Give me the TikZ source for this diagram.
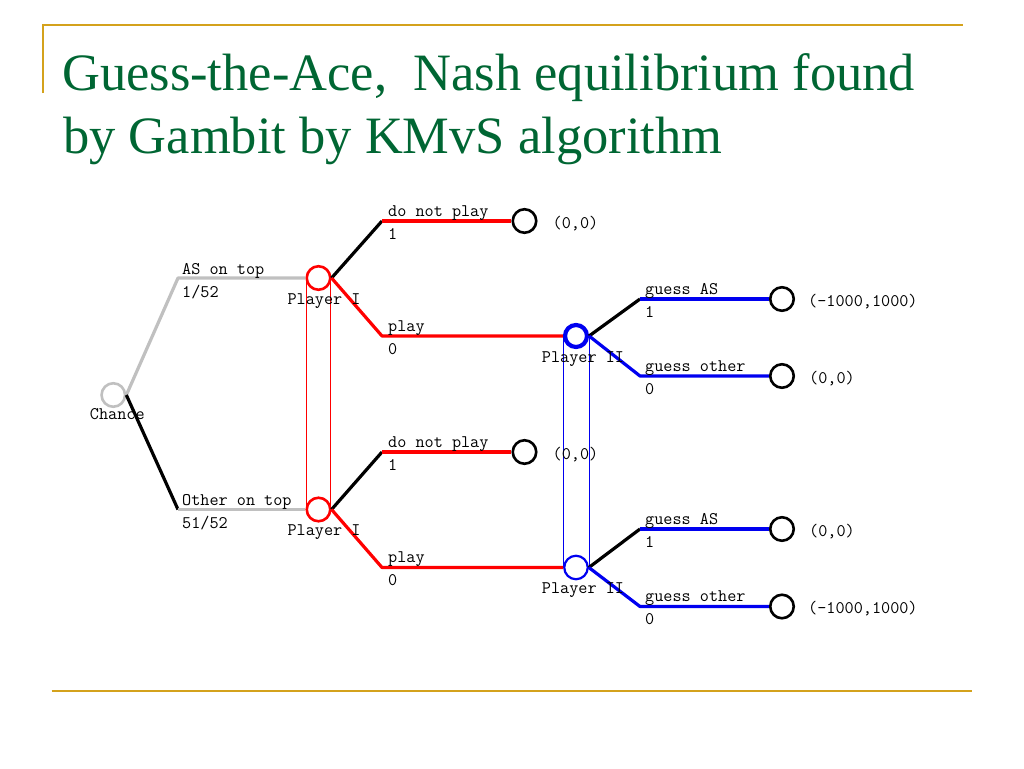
\documentclass[tikz,border=0pt]{standalone}
\usepackage{fontspec}
\newfontfamily\titlefont{Liberation Serif}
\usetikzlibrary{calc,backgrounds}
\definecolor{gold}{RGB}{212,162,28}
\definecolor{titlegreen}{RGB}{0,102,51}
\definecolor{brgray}{RGB}{192,192,192}
\definecolor{gblue}{RGB}{0,0,240}
\tikzset{
  br/.style={line width=3.2pt, line join=round},
  lbl/.style={font=\fontsize{17.7}{20}\selectfont\ttfamily, inner sep=0pt, text=black},
  lab/.style={lbl, anchor=base west},
  node0/.style={circle, minimum size=23.5pt, inner sep=0pt, line width=2.6pt, fill=white},
  term/.style={node0, draw=black},
  p1/.style={node0, draw=red},
  info/.style={line width=0.8pt},
  titletext/.style={font=\fontsize{52.5}{60}\selectfont\titlefont, text=titlegreen, inner sep=0pt, anchor=base west},
  rule/.style={draw=gold, line width=2pt}
}
\begin{document}
\begin{tikzpicture}[x=1pt,y=-1pt]
\useasboundingbox (0,0) rectangle (1024,768);
% slide rules
\coordinate (r1) at (42.7,25);
\coordinate (r2) at (963,25);
\coordinate (r3) at (42.7,93);
\coordinate (r4) at (51.7,691);
\coordinate (r5) at (971.7,691);
\draw[rule] (r3) -- (r1) -- (r2);
\draw[rule] (r4) -- (r5);
% title
\node[titletext] (t1line) at (62,90) {Guess-the-Ace,\ \ Nash equilibrium found};
\node[titletext] (t2line) at (63,153) {by Gambit by KMvS algorithm};
% nodes
\node[node0, draw=brgray] (chance) at (113.3,395) {};
\node[p1] (p1a) at (318.5,278) {};
\node[p1] (p1b) at (318.5,509.5) {};
\node[node0, draw=gblue, line width=4.2pt, minimum size=22pt] (p2a) at (576,336) {};
\node[node0, draw=gblue, line width=2.2pt] (p2b) at (576,567.5) {};
\node[term] (ta) at (524.5,221) {};
\node[term] (tb) at (524.5,452) {};
\node[term] (tc) at (782,299) {};
\node[term] (td) at (782,376) {};
\node[term] (te) at (782,529) {};
\node[term] (tf) at (782,606.5) {};
% bend points
\coordinate (c1) at (178,278);
\coordinate (c2) at (178,509.5);
\coordinate (d1) at (382,221);
\coordinate (d2) at (382,336);
\coordinate (d3) at (382,452);
\coordinate (d4) at (382,567.5);
\coordinate (e1) at (640,299);
\coordinate (e2) at (640,376);
\coordinate (e3) at (640,529);
\coordinate (e4) at (640,606.5);
% information sets
\begin{scope}[on background layer]
\draw[info, red] (p1a.center) ++(-12,0) coordinate (i1) rectangle ($(p1b.center)+(12,0)$);
\draw[info, gblue] (p2a.center) ++(-13,0) coordinate (i2) rectangle ($(p2b.center)+(13,0)$);
\end{scope}
% chance branches
\draw[br, brgray] (chance.east) -- (c1) -- (p1a.west);
\draw[br, black] (chance.east) -- (c2);
\draw[br, brgray] (c2) -- (p1b.west);
% player I branches
\draw[br, black] (p1a.east) -- (d1);
\draw[br, red] (d1) -- (ta.west);
\draw[br, red] (p1a.east) -- (d2) -- (p2a.west);
\draw[br, black] (p1b.east) -- (d3);
\draw[br, red] (d3) -- (tb.west);
\draw[br, red] (p1b.east) -- (d4) -- (p2b.west);
% player II branches
\draw[br, black] (p2a.east) -- (e1);
\draw[br, gblue] (e1) -- (tc.west);
\draw[br, gblue] (p2a.east) -- (e2) -- (td.west);
\draw[br, black] (p2b.east) -- (e3);
\draw[br, gblue] (e3) -- (te.west);
\draw[br, gblue] (p2b.east) -- (e4) -- (tf.west);
% node labels
\node[lbl, anchor=base] (lch) at ($(chance.center)+(4,24)$) {Chance};
\node[lbl, anchor=base] (lp1a) at ($(p1a.center)+(5.5,26)$) {Player I};
\node[lbl, anchor=base] (lp1b) at ($(p1b.center)+(5.5,26)$) {Player I};
\node[lbl, anchor=base] (lp2a) at ($(p2a.center)+(7,26)$) {Player II};
\node[lbl, anchor=base] (lp2b) at ($(p2b.center)+(7,26)$) {Player II};
% branch labels
\node[lab] (b1) at ($(c1)+(4,-4)$) {AS on top};
\node[lab] (b1p) at ($(c1)+(4,19)$) {1/52};
\node[lab] (b2) at ($(c2)+(4,-4)$) {Other on top};
\node[lab] (b2p) at ($(c2)+(4,19)$) {51/52};
\node[lab] (b3) at ($(d1)+(6,-5)$) {do not play};
\node[lab] (b3p) at ($(d1)+(6,18)$) {1};
\node[lab] (b4) at ($(d2)+(6,-5)$) {play};
\node[lab] (b4p) at ($(d2)+(6,18)$) {0};
\node[lab] (b5) at ($(d3)+(6,-5)$) {do not play};
\node[lab] (b5p) at ($(d3)+(6,18)$) {1};
\node[lab] (b6) at ($(d4)+(6,-5)$) {play};
\node[lab] (b6p) at ($(d4)+(6,18)$) {0};
\node[lab] (b7) at ($(e1)+(5,-5)$) {guess AS};
\node[lab] (b7p) at ($(e1)+(5,18)$) {1};
\node[lab] (b8) at ($(e2)+(5,-5)$) {guess other};
\node[lab] (b8p) at ($(e2)+(5,18)$) {0};
\node[lab] (b9) at ($(e3)+(5,-5)$) {guess AS};
\node[lab] (b9p) at ($(e3)+(5,18)$) {1};
\node[lab] (b10) at ($(e4)+(5,-5)$) {guess other};
\node[lab] (b10p) at ($(e4)+(5,18)$) {0};
% payoffs
\node[lab] (pa) at ($(ta.center)+(28,7)$) {(0,0)};
\node[lab] (pb) at ($(tb.center)+(28,7)$) {(0,0)};
\node[lab] (pc) at ($(tc.center)+(26,7)$) {(-1000,1000)};
\node[lab] (pd) at ($(td.center)+(27,7)$) {(0,0)};
\node[lab] (pe) at ($(te.center)+(27,7)$) {(0,0)};
\node[lab] (pf) at ($(tf.center)+(26,7)$) {(-1000,1000)};
\end{tikzpicture}
\end{document}
